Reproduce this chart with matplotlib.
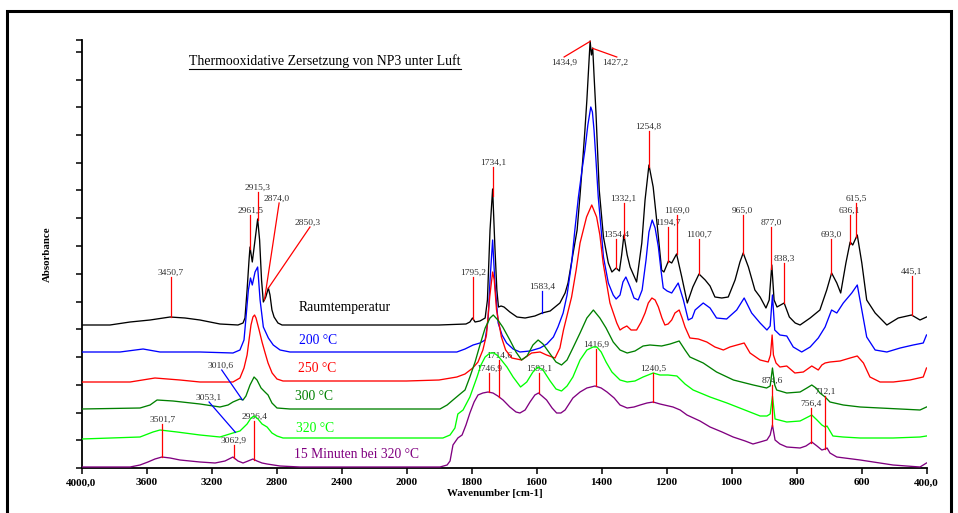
import numpy as np
import matplotlib
matplotlib.use("Agg")
import matplotlib.pyplot as plt
from matplotlib.patches import Rectangle
from matplotlib.lines import Line2D

plt.rcParams['font.family'] = ['Liberation Serif', 'DejaVu Serif']

# ---------------------------------------------------------------- spectra
# wavenumber [cm-1] / absorbance (curves stacked with offsets as plotted)
wn_rt = [4000,3825,3701,3578,3455,3363,3271,3148,3037,3006,
         2994,2981,2969,2963,2949,2932,2916,2904,2892,2881,
         2866,2850,2840,2828,2815,2791,2766,2600,2400,2200,
         2000,1900,1817,1805,1797,1789,1774,1758,1751,1743,
         1735,1728,1722,1717,1709,1700,1682,1660,1635,1605,
         1583,1558,1528,1512,1503,1491,1475,1466,1457,1451,
         1445,1438,1435,1431,1427,1423,1417,1407,1394,1379,
         1368,1355,1345,1338,1331,1321,1312,1292,1276,1266,
         1254,1241,1228,1215,1208,1194,1184,1169,1153,1136,
         1119,1100,1081,1066,1051,1030,1010,989,974,964,
         948,928,912,894,884,876,869,860,838,822,
         804,789,758,728,707,692,676,664,648,635,
         627,613,599,584,558,522,487,446,420,400]
abs_rt = [1.43,1.43,1.46,1.48,1.51,1.50,1.48,1.44,1.43,1.45,
          1.50,1.78,2.08,2.21,2.06,2.28,2.49,2.28,1.88,1.66,
          1.71,1.80,1.73,1.58,1.51,1.45,1.43,1.43,1.43,1.43,
          1.43,1.43,1.44,1.46,1.50,1.46,1.47,1.50,1.68,2.38,
          2.79,2.21,1.78,1.61,1.62,1.61,1.56,1.51,1.50,1.52,
          1.55,1.57,1.65,1.75,1.85,2.08,2.38,2.73,3.11,3.38,
          3.68,4.08,4.27,4.13,4.20,3.93,3.55,2.78,2.31,2.05,
          1.96,2.00,1.97,2.13,2.33,2.13,2.01,1.86,2.25,2.68,
          3.03,2.81,2.41,1.98,1.96,2.07,2.05,2.14,1.91,1.65,
          1.81,1.94,1.88,1.82,1.71,1.70,1.71,1.88,2.06,2.15,
          2.01,1.78,1.71,1.60,1.68,2.03,1.68,1.61,1.65,1.51,
          1.45,1.43,1.50,1.58,1.78,1.95,1.85,1.75,2.05,2.26,
          2.23,2.33,2.05,1.68,1.55,1.43,1.50,1.53,1.48,1.51]

wn_200 = [4000,3763,3621,3517,3271,3068,3025,3000,2988,2973,
          2960,2949,2932,2916,2901,2881,2850,2820,2778,2717,
          2400,2000,1900,1845,1820,1795,1774,1758,1749,1743,
          1735,1728,1718,1706,1692,1672,1651,1620,1589,1568,
          1548,1534,1518,1506,1492,1482,1471,1460,1451,1442,
          1433,1428,1423,1417,1410,1401,1394,1379,1364,1355,
          1343,1334,1325,1312,1300,1287,1275,1263,1254,1244,
          1235,1225,1217,1210,1198,1184,1174,1164,1148,1133,
          1121,1112,1087,1066,1046,1015,984,961,938,912,
          891,881,874,867,851,830,810,784,758,733,
          712,692,676,656,630,613,599,584,558,522,
          481,441,410,400]
abs_200 = [1.16,1.16,1.19,1.16,1.16,1.15,1.18,1.28,1.50,1.78,
           1.90,1.83,1.96,2.01,1.68,1.41,1.30,1.23,1.18,1.16,
           1.16,1.16,1.16,1.16,1.19,1.23,1.25,1.28,1.48,1.88,
           2.28,1.85,1.45,1.33,1.25,1.19,1.16,1.17,1.20,1.24,
           1.31,1.41,1.55,1.73,2.05,2.38,2.71,2.98,3.18,3.43,
           3.61,3.56,3.38,3.08,2.71,2.38,2.11,1.85,1.73,1.69,
           1.73,1.86,1.91,1.81,1.70,1.68,1.78,2.08,2.36,2.48,
           2.40,2.21,1.98,1.80,1.77,1.75,1.80,1.85,1.68,1.48,
           1.50,1.58,1.65,1.60,1.50,1.49,1.58,1.70,1.55,1.45,
           1.38,1.42,1.73,1.38,1.33,1.32,1.21,1.16,1.21,1.30,
           1.41,1.58,1.55,1.65,1.75,1.83,1.58,1.31,1.18,1.16,
           1.20,1.23,1.25,1.33]

wn_250 = [4000,3701,3548,3394,3271,3068,3025,3000,2981,2969,
          2957,2945,2935,2926,2907,2889,2870,2852,2827,2797,
          2760,2400,2000,1900,1845,1820,1796,1780,1765,1754,
          1744,1735,1730,1723,1708,1695,1676,1646,1615,1589,
          1569,1543,1528,1517,1492,1478,1466,1446,1430,1415,
          1405,1395,1374,1353,1343,1334,1322,1309,1292,1278,
          1266,1256,1245,1235,1225,1214,1205,1195,1184,1174,
          1161,1152,1143,1128,1102,1076,1051,1025,1005,983,
          961,943,912,887,880,875,871,863,851,830,
          805,779,753,733,722,712,697,666,635,613,
          594,574,543,502,451,410,400]
abs_250 = [0.86,0.86,0.90,0.88,0.86,0.86,0.90,1.00,1.13,1.28,
           1.43,1.51,1.53,1.50,1.38,1.26,1.15,1.05,0.95,0.89,
           0.87,0.87,0.87,0.88,0.91,0.94,1.00,1.06,1.18,1.33,
           1.71,1.96,1.88,1.58,1.31,1.18,1.10,1.08,1.15,1.16,
           1.13,1.10,1.20,1.38,1.71,1.98,2.25,2.51,2.63,2.51,
           2.33,2.05,1.65,1.45,1.38,1.40,1.42,1.38,1.38,1.46,
           1.55,1.65,1.70,1.68,1.61,1.50,1.43,1.44,1.48,1.55,
           1.58,1.50,1.41,1.30,1.29,1.26,1.21,1.18,1.21,1.23,
           1.25,1.15,1.08,1.06,1.13,1.33,1.13,1.05,1.01,1.02,
           0.95,0.96,1.02,0.98,1.03,1.05,1.06,1.07,1.10,1.12,
           1.05,0.91,0.86,0.86,0.88,0.91,1.00]

wn_300 = [4000,3640,3578,3535,3437,3271,3148,3098,3068,3025,
          3006,2988,2963,2938,2920,2895,2871,2852,2828,2797,
          2717,2400,2000,1897,1875,1857,1835,1820,1805,1789,
          1774,1758,1743,1733,1719,1704,1682,1663,1646,1629,
          1611,1595,1580,1558,1540,1523,1506,1488,1466,1445,
          1425,1405,1386,1364,1343,1321,1297,1272,1251,1215,
          1189,1161,1143,1128,1087,1046,994,933,892,881,
          874,867,861,830,789,768,753,740,728,712,
          697,656,604,543,481,420,400]
abs_300 = [0.59,0.60,0.63,0.68,0.67,0.64,0.61,0.63,0.66,0.69,
           0.68,0.72,0.83,0.91,0.88,0.80,0.76,0.73,0.65,0.60,
           0.59,0.59,0.59,0.59,0.63,0.68,0.74,0.78,0.91,1.06,
           1.23,1.40,1.50,1.53,1.48,1.41,1.28,1.16,1.08,1.12,
           1.23,1.28,1.24,1.14,1.06,1.03,1.08,1.20,1.35,1.50,
           1.58,1.50,1.40,1.26,1.18,1.15,1.17,1.22,1.23,1.22,
           1.24,1.27,1.18,1.11,1.05,0.96,0.88,0.83,0.80,0.82,
           1.00,0.83,0.78,0.75,0.76,0.80,0.83,0.80,0.75,0.71,
           0.66,0.63,0.61,0.60,0.59,0.58,0.61]

wn_320 = [4000,3640,3560,3517,3412,3271,3148,3068,3025,3006,
          2981,2957,2935,2914,2889,2858,2828,2797,2760,2400,
          2000,1888,1866,1851,1842,1826,1805,1783,1771,1758,
          1743,1731,1718,1713,1691,1672,1649,1630,1611,1595,
          1580,1558,1540,1523,1506,1488,1466,1445,1426,1414,
          1401,1386,1368,1343,1321,1297,1272,1241,1220,1195,
          1168,1143,1118,1066,1014,959,912,891,881,874,
          866,830,789,771,753,737,722,712,706,688,
          657,604,503,420,400]
abs_320 = [0.29,0.31,0.36,0.38,0.36,0.33,0.31,0.35,0.37,0.40,
           0.44,0.50,0.52,0.49,0.44,0.41,0.35,0.32,0.30,0.30,
           0.30,0.30,0.33,0.40,0.54,0.58,0.71,0.91,1.03,1.11,
           1.15,1.15,1.12,1.10,1.01,0.91,0.81,0.86,0.96,1.01,
           0.98,0.87,0.79,0.77,0.82,0.91,1.08,1.18,1.21,1.21,
           1.16,1.06,0.96,0.88,0.86,0.87,0.91,0.95,0.93,0.93,
           0.92,0.84,0.78,0.71,0.65,0.58,0.52,0.52,0.54,0.72,
           0.49,0.46,0.47,0.50,0.53,0.48,0.43,0.41,0.42,0.32,
           0.31,0.30,0.30,0.31,0.32]

wn_15min = [4000,3701,3640,3591,3548,3505,3455,3394,3271,3178,
            3117,3068,3037,3006,2975,2945,2920,2889,2858,2778,
            2655,2400,2000,1897,1875,1866,1857,1842,1829,1817,
            1805,1792,1780,1765,1749,1734,1719,1703,1682,1663,
            1651,1635,1620,1605,1594,1583,1569,1552,1538,1525,
            1512,1488,1466,1445,1420,1401,1383,1361,1343,1321,
            1300,1281,1260,1241,1220,1180,1158,1137,1097,1066,
            1029,995,958,934,912,891,881,874,866,851,
            830,789,771,753,737,722,712,706,697,676,
            604,503,420,400]
abs_15min = [0.01,0.01,0.03,0.06,0.09,0.11,0.10,0.08,0.06,0.05,
             0.07,0.11,0.07,0.05,0.07,0.09,0.07,0.05,0.04,0.02,
             0.01,0.01,0.01,0.01,0.03,0.07,0.23,0.30,0.33,0.43,
             0.55,0.66,0.73,0.75,0.76,0.75,0.72,0.68,0.61,0.56,
             0.55,0.58,0.66,0.73,0.75,0.72,0.68,0.60,0.55,0.55,
             0.58,0.70,0.76,0.80,0.82,0.80,0.76,0.70,0.63,0.60,
             0.61,0.63,0.65,0.66,0.64,0.61,0.58,0.53,0.47,0.41,
             0.36,0.31,0.27,0.24,0.26,0.28,0.33,0.43,0.28,0.24,
             0.21,0.20,0.22,0.26,0.22,0.18,0.19,0.20,0.15,0.11,
             0.08,0.03,0.01,0.05]

series_names = ["Raumtemperatur", "200 °C", "250 °C", "300 °C", "320 °C",
                "15 Minuten bei 320 °C"]
series_colors = ["#000000", "#0000ff", "#ff0000", "#008000", "#00ff00", "#800080"]
series_wn = [wn_rt, wn_200, wn_250, wn_300, wn_320, wn_15min]
series_abs = [abs_rt, abs_200, abs_250, abs_300, abs_320, abs_15min]

# peak labels: (wavenumber, series index, label line top)
peaks_vertical = [
    (3450.7, 0, 1.91), (2961.5, 0, 2.53), (2915.3, 0, 2.76),
    (1795.2, 0, 1.91), (1734.1, 0, 3.01), (1583.4, 0, 1.77),
    (1354.4, 0, 2.29), (1332.1, 0, 2.65), (1254.8, 0, 3.37),
    (1194.7, 0, 2.41), (1169.0, 0, 2.53), (1100.7, 0, 2.29),
    (965.0, 0, 2.53), (877.0, 0, 2.41), (838.3, 0, 2.05),
    (693.0, 0, 2.29), (636.1, 0, 2.53), (615.5, 0, 2.65),
    (445.1, 0, 1.92),
    (3501.7, 5, 0.44), (3062.9, 5, 0.23), (2936.4, 5, 0.47),
    (1746.9, 5, 0.95), (1714.6, 5, 1.08), (1593.1, 5, 0.95),
    (1416.9, 5, 1.19), (1240.5, 5, 0.95), (874.6, 5, 0.83),
    (756.4, 5, 0.60), (712.1, 5, 0.72),
]
blue_lines = {1583.4}
# slanted label lines: (wavenumber, series, line end wn, line end A, text wn, text A, va, colour)
peaks_slanted = [
    (2874.0, 0, 2784, 2.65, 2800, 2.67, "baseline", "#ff0000"),
    (2850.3, 0, 2594, 2.41, 2606, 2.43, "baseline", "#ff0000"),
    (1434.9, 0, 1515, 4.11, 1515, 4.09, "top", "#ff0000"),
    (1427.2, 0, 1353, 4.11, 1358, 4.09, "top", "#ff0000"),
    (3010.6, 3, 3137, 0.98, 3147, 1.00, "baseline", "#0000ff"),
    (3053.1, 4, 3215, 0.66, 3220, 0.68, "baseline", "#0000ff"),
]

tick_wn = [4000, 3600, 3200, 2800, 2400, 2000, 1800, 1600, 1400, 1200, 1000, 800, 600, 400]
tick_text = ["4000,0", "3600", "3200", "2800", "2400", "2000", "1800", "1600",
             "1400", "1200", "1000", "800", "600", "400,0"]


# wavenumber axis: 400 cm-1 per division above 2000, 200 cm-1 per division below
def fwd(x):
    x = np.asarray(x, dtype=float)
    return np.where(x >= 2000, 8 + (x - 2000) / 400.0, (x - 400) / 200.0)


def inv(u):
    u = np.asarray(u, dtype=float)
    return np.where(u >= 8, 2000 + (u - 8) * 400.0, 400 + u * 200.0)


W, H = 958, 513
fig = plt.figure(figsize=(W / 100, H / 100), dpi=100)


def fx(px):
    return px / W


def fy(py):
    return 1 - py / H


ax = fig.add_axes([fx(81.5), fy(468), (926.5 - 81.5) / W, (468 - 40) / H])
ax.set_xscale("function", functions=(fwd, inv))
ax.set_xlim(4000, 400)
ax.set_ylim(0, 4.28)

for s in ("top", "right"):
    ax.spines[s].set_visible(False)
for s in ("left", "bottom"):
    ax.spines[s].set_linewidth(1.3)

ax.set_xticks(tick_wn)
ax.set_xticklabels(tick_text, fontweight="bold", fontsize=8)
ax.set_yticks(list(np.arange(0, 4.17, 0.2775)) + [4.28])
ax.set_yticklabels([])
ax.tick_params(axis="both", direction="out", length=4, width=1.1, pad=3.5)
ax.minorticks_off()

for w, a, c in zip(series_wn, series_abs, series_colors):
    ax.plot(w, a, color=c, lw=0.95, zorder=3, solid_joinstyle="round")


def value_at(idx, w):
    xs = np.asarray(series_wn[idx], dtype=float)[::-1]
    ys = np.asarray(series_abs[idx], dtype=float)[::-1]
    return float(np.interp(w, xs, ys))


lab_kw = dict(fontsize=6.8, color="#303030", ha="center", zorder=2)
for w, idx, top in peaks_vertical:
    col = "#0000ff" if w in blue_lines else "#ff0000"
    y0 = value_at(idx, w)
    ax.plot([w, w], [y0, top], color=col, lw=0.9, zorder=4)
    ax.text(w, top + 0.02, f"{w:.1f}".replace(".", ","), va="baseline", **lab_kw)

for w, idx, ew, ea, tw, ta, va, col in peaks_slanted:
    y0 = value_at(idx, w)
    ax.plot([w, ew], [y0, ea], color=col, lw=0.9, zorder=4)
    ax.text(tw, ta, f"{w:.1f}".replace(".", ","), va=va, **lab_kw)

# curve names
name_pos = [(299, 307), (299, 340), (298, 369), (295, 397), (296, 428), (294, 455)]
for name, c, (px, py) in zip(series_names, series_colors, name_pos):
    fig.text(fx(px), fy(py), name, color=c, fontsize=9.8, ha="left", va="center")

fig.text(fx(495), fy(494), "Wavenumber [cm-1]", fontsize=7.8, fontweight="bold",
         ha="center", va="center")
fig.text(fx(47), fy(254), "Absorbance", fontsize=7.8, fontweight="bold",
         rotation=90, ha="center", va="center")

title = fig.text(fx(189), fy(65), "Thermooxidative Zersetzung von NP3 unter Luft",
                 fontsize=9.9, ha="left", va="baseline")
fig.canvas.draw()
bb = title.get_window_extent(renderer=fig.canvas.get_renderer())
fig.add_artist(Line2D([bb.x0 / W, bb.x1 / W], [fy(68.5), fy(68.5)],
                      transform=fig.transFigure, color="black", lw=0.8))

fig.add_artist(Rectangle((fx(7), -0.05), (951 - 7) / W, fy(11) + 0.05,
                         transform=fig.transFigure, fill=False,
                         edgecolor="black", lw=2.2))

fig.savefig("out.png", dpi=100)
